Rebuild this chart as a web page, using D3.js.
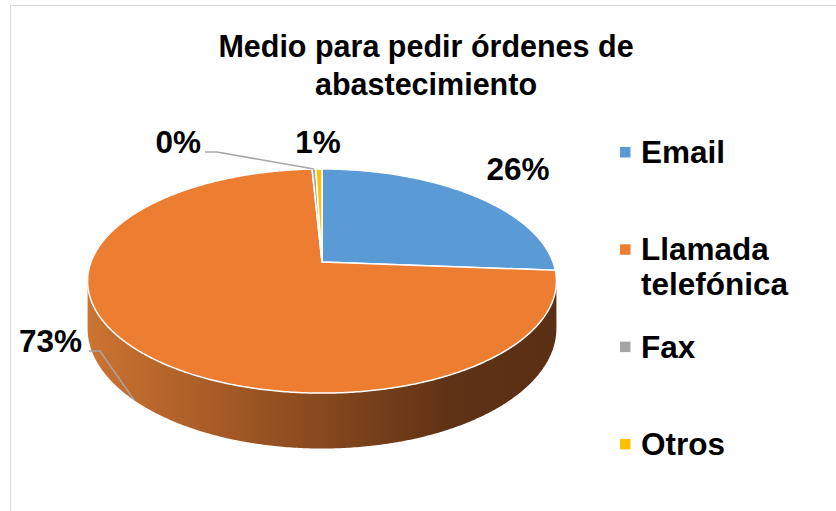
<!DOCTYPE html>
<html>
<head>
<meta charset="UTF-8">
<title>Medio para pedir órdenes de abastecimiento</title>
<script src="https://d3js.org/d3.v7.min.js"></script>
<style>
  body { margin: 0; background: #fff; }
  text { font-family: "Liberation Sans", Arial, sans-serif; font-weight: bold; fill: #000; }
</style>
</head>
<body>
<div id="chart"></div>
<script>
// data
const title = "Medio para pedir órdenes de abastecimiento";
const categories = ["Email", "Llamada telefónica", "Fax", "Otros"];
const values = [26.2, 73.0, 0.3, 0.5];
const palette = ["#5b9bd5", "#ed7d31", "#a5a5a5", "#ffc000"];

const width = 836, height = 511;

// 3D pie geometry (perspective tilt like Excel)
const cx = 322, cy = 262;
const rx = 231, ry = 108.8, persp = 0.17, depth = 46;

const svg = d3.select("#chart").append("svg")
  .attr("width", width)
  .attr("height", height);

// chart frame
svg.append("rect")
  .attr("x", 10.5).attr("y", 5.5)
  .attr("width", 900).attr("height", 600)
  .attr("fill", "#fff")
  .attr("stroke", "#d9d9d9");

const color = d3.scaleOrdinal().domain(categories).range(palette);
const total = d3.sum(values);
const pct = d3.format(".0%");

const pie = d3.pie().sort(null).value(d => d.value);
const arcs = pie(categories.map((c, i) => ({ label: c, value: values[i] })));

// angle (clockwise from 12 o'clock) -> screen point, z = drop below the top face
function project(a, z = 0) {
  const u = Math.sin(a), v = -Math.cos(a);
  const s = 1 / (1 - persp * v);
  return [cx + rx * u * s, cy + ry * v * s + z * s];
}

function samples(a0, a1) {
  const n = Math.max(2, Math.ceil((a1 - a0) / (Math.PI / 360)));
  return d3.range(n + 1).map(i => a0 + (a1 - a0) * i / n);
}

const line = d3.line();

// side wall gradient
const defs = svg.append("defs");
const grad = defs.append("linearGradient")
  .attr("id", "side")
  .attr("gradientUnits", "userSpaceOnUse")
  .attr("x1", cx - rx).attr("x2", cx + rx)
  .attr("y1", 0).attr("y2", 0);
grad.append("stop").attr("offset", "0%").attr("stop-color", "#cb7331");
grad.append("stop").attr("offset", "45%").attr("stop-color", "#8e4c1f");
grad.append("stop").attr("offset", "78%").attr("stop-color", "#5e3215");
grad.append("stop").attr("offset", "100%").attr("stop-color", "#5a2f13");

// only the front of the wall shows
const frontLo = Math.acos(-persp), frontHi = 2 * Math.PI - frontLo;

arcs.forEach(d => {
  const a0 = Math.max(d.startAngle, frontLo), a1 = Math.min(d.endAngle, frontHi);
  if (a1 <= a0) return;
  const ang = samples(a0, a1);
  const pts = ang.map(a => project(a)).concat(ang.slice().reverse().map(a => project(a, depth)));
  svg.append("path")
    .attr("d", line(pts) + "Z")
    .attr("fill", "url(#side)")
    .attr("stroke", "none");
});

// top faces
svg.selectAll("path.top")
  .data(arcs)
  .join("path")
  .attr("class", "top")
  .attr("d", d => line([[cx, cy]].concat(samples(d.startAngle, d.endAngle).map(a => project(a)))) + "Z")
  .attr("fill", d => color(d.data.label))
  .attr("stroke", "#fff")
  .attr("stroke-width", 1.5)
  .attr("stroke-linejoin", "round");

// data labels (placed like Excel's best fit)
const labelLayout = {
  "Email": { x: 518, y: 180, anchor: "middle" },
  "Llamada telefónica": { x: 82, y: 352, anchor: "end", leader: [[89, 351], [100, 351]], drop: depth },
  "Fax": { x: 201, y: 153, anchor: "end", leader: [[205, 152], [217, 152]], drop: 0 },
  "Otros": { x: 318, y: 153, anchor: "middle" }
};

arcs.forEach(d => {
  const L = labelLayout[d.data.label];
  if (L.leader) {
    const mid = (d.startAngle + d.endAngle) / 2;
    svg.append("path")
      .attr("d", line(L.leader.concat([project(mid, L.drop)])))
      .attr("fill", "none")
      .attr("stroke", "#a6a6a6")
      .attr("stroke-width", 1.5);
  }
  svg.append("text")
    .attr("x", L.x).attr("y", L.y)
    .attr("text-anchor", L.anchor)
    .style("font-size", "31.5px")
    .text(pct(Math.round(d.value / total * 100) / 100));
});

// wrap words into lines no wider than maxW
function wrap(textSel, words, x, lineH, maxW) {
  let lineWords = [], lineNo = 0;
  let tspan = textSel.append("tspan").attr("x", x).attr("dy", 0);
  words.forEach(w => {
    lineWords.push(w);
    tspan.text(lineWords.join(" "));
    if (tspan.node().getComputedTextLength() > maxW && lineWords.length > 1) {
      lineWords.pop();
      tspan.text(lineWords.join(" "));
      lineWords = [w];
      lineNo++;
      tspan = textSel.append("tspan").attr("x", x).attr("dy", lineH).text(w);
    }
  });
}

// title
const t = svg.append("text")
  .attr("y", 57)
  .attr("text-anchor", "middle")
  .style("font-size", "30.5px");
wrap(t, title.split(" "), 426, 38, 450);

// legend
const legend = svg.selectAll("g.legend")
  .data(categories)
  .join("g")
  .attr("class", "legend")
  .attr("transform", (d, i) => `translate(620, ${163 + i * 97.3})`);

legend.append("rect")
  .attr("x", 0).attr("y", -16)
  .attr("width", 10.5).attr("height", 10.5)
  .attr("fill", d => color(d));

legend.each(function(d) {
  const txt = d3.select(this).append("text")
    .attr("y", 0)
    .style("font-size", "31.5px");
  wrap(txt, d.split(" "), 21, 35, 190);
});
</script>
</body>
</html>
